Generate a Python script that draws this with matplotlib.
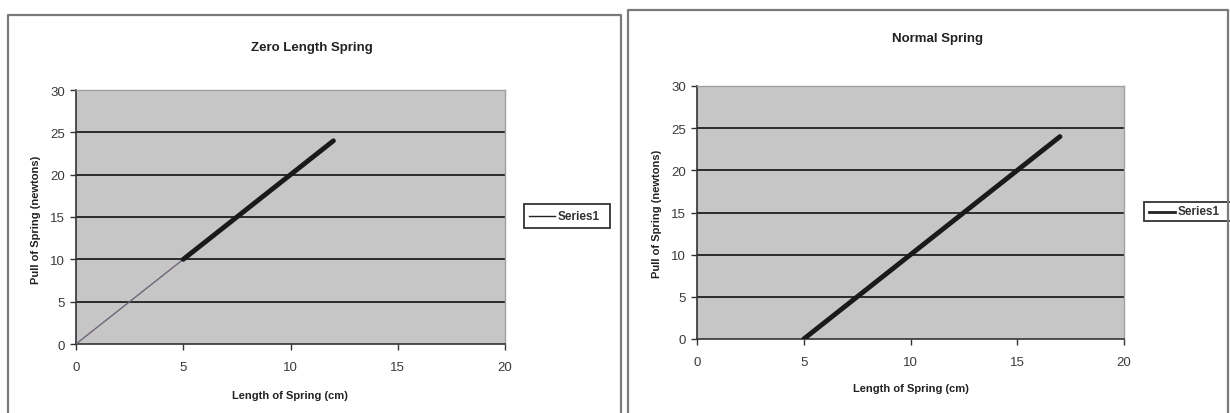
import matplotlib.pyplot as plt
from matplotlib.lines import Line2D
import numpy as np

plt.rcParams['font.family'] = ['Liberation Sans', 'DejaVu Sans']

# Zero length spring: length (cm) vs pull (newtons)
zero_len_all = [0, 5, 12]
zero_pull_all = [0, 10, 24]
zero_len = [5, 6, 7, 8, 9, 10, 11, 12]
zero_pull = [10, 12, 14, 16, 18, 20, 22, 24]

# Normal spring
norm_len = [5, 7, 9, 11, 13, 15, 17]
norm_pull = [0, 4, 8, 12, 16, 20, 24]

x_ticks = [0, 5, 10, 15, 20]
y_ticks = [0, 5, 10, 15, 20, 25, 30]

W, H = 1230, 414
fig = plt.figure(figsize=(12.3, 4.14), dpi=100)
fig.patch.set_facecolor('white')

PLOT_BG = '#c6c6c6'
GRID = '#2b2b2b'
BORDER = '#7a7a7a'


def px(x, y):
    return x / W, 1 - y / H


def style_axes(ax):
    ax.set_facecolor(PLOT_BG)
    ax.set_xlim(0, 20)
    ax.set_ylim(0, 30)
    ax.set_xticks(x_ticks)
    ax.set_yticks(y_ticks)
    for yv in y_ticks[1:-1]:
        ax.axhline(yv, color=GRID, lw=1.4, zorder=1)
    for s in ['top', 'right']:
        ax.spines[s].set_color('#a0a0a0')
        ax.spines[s].set_linewidth(1.0)
    for s in ['left', 'bottom']:
        ax.spines[s].set_color('#333333')
        ax.spines[s].set_linewidth(1.2)
    ax.tick_params(direction='out', length=4, width=1, colors='#333333',
                   labelsize=9.5, labelcolor='#3a3a3a')
    ax.tick_params(axis='x', pad=8)
    ax.tick_params(axis='y', pad=4)


def legend_box(ax, x0, y0, x1, y1, lw):
    fx0, fy0 = px(x0, y1)
    fx1, fy1 = px(x1, y0)
    rect = plt.Rectangle((fx0, fy0), fx1 - fx0, fy1 - fy0, transform=fig.transFigure,
                         facecolor='white', edgecolor='#333333', lw=1.3)
    fig.add_artist(rect)
    lx0, ly = px(x0 + 5, (y0 + y1) / 2)
    lx1, _ = px(x0 + 31, 0)
    fig.add_artist(Line2D([lx0, lx1], [ly, ly], transform=fig.transFigure,
                          color='#222222', lw=lw))
    tx, _ = px(x0 + 34, 0)
    fig.text(tx, ly, 'Series1', fontsize=8.5, fontweight='bold', color='#333333',
             ha='left', va='center')


def border(x0, y0, x1, y1):
    pts = [px(x0, 414), px(x0, y0), px(x1, y0), px(x1, 414)]
    xs = [p[0] for p in pts]
    ys = [p[1] for p in pts]
    fig.add_artist(Line2D(xs, ys, transform=fig.transFigure, color=BORDER, lw=1.6))


# panel borders
border(8, 16, 621, 414)
border(628, 11, 1228, 414)

# left chart
ax1 = fig.add_axes([76 / W, 1 - 345 / H, (505 - 76) / W, (345 - 91) / H])
style_axes(ax1)
ax1.plot(zero_len_all, zero_pull_all, color='#6f6478', lw=1.0, zorder=3)
ax1.plot(zero_len, zero_pull, color='#1a1a1a', lw=3.5, zorder=4, solid_capstyle='round')
fig.text(*px(312, 48), 'Zero Length Spring', ha='center', va='center',
         fontsize=9.5, fontweight='bold', color='#222222')
fig.text(*px(290, 396), 'Length of Spring (cm)', ha='center', va='center',
         fontsize=8, fontweight='bold', color='#222222')
fig.text(*px(36, 220), 'Pull of Spring (newtons)', ha='center', va='center',
         rotation=90, fontsize=8, fontweight='bold', color='#222222')
legend_box(ax1, 524, 205, 610, 229, 1.0)

# right chart
ax2 = fig.add_axes([697 / W, 1 - 340 / H, (1124 - 697) / W, (340 - 87) / H])
style_axes(ax2)
ax2.plot(norm_len, norm_pull, color='#1a1a1a', lw=3.5, zorder=4, solid_capstyle='round')
fig.text(*px(937, 39), 'Normal Spring', ha='center', va='center',
         fontsize=9.5, fontweight='bold', color='#222222')
fig.text(*px(911, 389), 'Length of Spring (cm)', ha='center', va='center',
         fontsize=8, fontweight='bold', color='#222222')
fig.text(*px(657, 214), 'Pull of Spring (newtons)', ha='center', va='center',
         rotation=90, fontsize=8, fontweight='bold', color='#222222')
legend_box(ax2, 1144, 203, 1236, 222, 2.0)

fig.savefig('out.png', dpi=100, facecolor='white')
